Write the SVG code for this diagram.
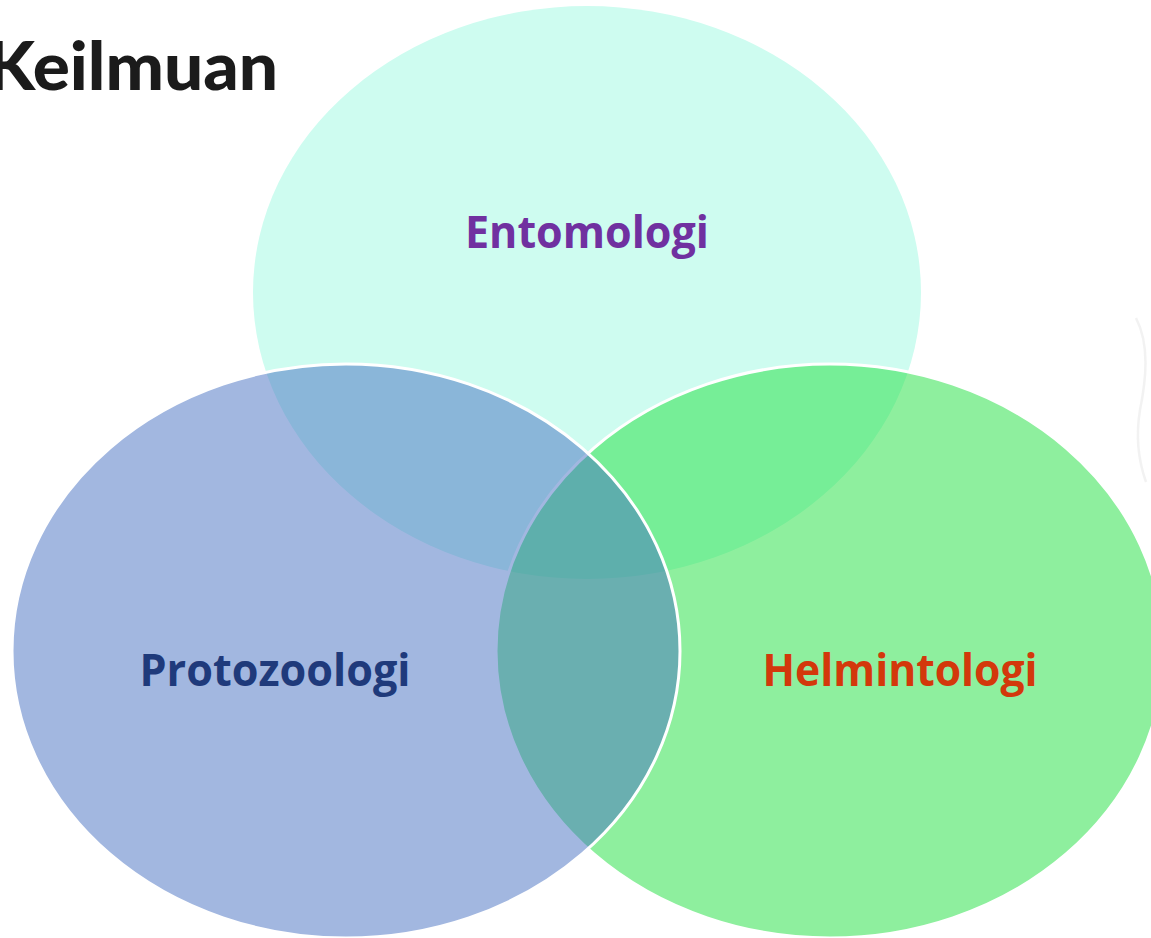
<svg xmlns="http://www.w3.org/2000/svg" width="1151" height="938" viewBox="0 0 1151 938">
  <style>
    .lbl { font-family: "Open Sans", "Liberation Sans", sans-serif; font-weight: 700; text-anchor: middle; }
    .title { font-family: Lato, "Open Sans", "Liberation Sans", sans-serif; font-weight: 900; fill: #1b1b1b; }
  </style>
  <rect width="1151" height="938" fill="#ffffff"/>
  <path d="M1136 318 C1150 345 1146 380 1140 410 C1135 440 1140 465 1146 482" fill="none" stroke="#ececec" stroke-width="2.5" opacity="0.7"/>
  <g id="title">
    <text class="title" x="-13" y="90" font-size="66" textLength="291" lengthAdjust="spacingAndGlyphs">Keilmuan</text>
  </g>
  <g id="entomologi">
    <ellipse cx="587" cy="292.5" rx="334" ry="286.5" fill="#cefcf0"/>
  </g>
  <g id="helmintologi">
    <ellipse cx="830" cy="651" rx="334" ry="287" fill="#1ddf3d" fill-opacity="0.5" stroke="#ffffff" stroke-width="3"/>
  </g>
  <g id="protozoologi">
    <ellipse cx="346" cy="651" rx="334" ry="287" fill="#456fc1" fill-opacity="0.5" stroke="#ffffff" stroke-width="3"/>
  </g>
  <g id="labels">
    <text class="lbl" x="587" y="248" font-size="45" fill="#7030a0" textLength="244" lengthAdjust="spacingAndGlyphs">Entomologi</text>
    <text class="lbl" x="275" y="686" font-size="45" fill="#1f3a7b" textLength="271" lengthAdjust="spacingAndGlyphs">Protozoologi</text>
    <text class="lbl" x="900" y="686" font-size="45" fill="#d3380b" textLength="275" lengthAdjust="spacingAndGlyphs">Helmintologi</text>
  </g>
</svg>
